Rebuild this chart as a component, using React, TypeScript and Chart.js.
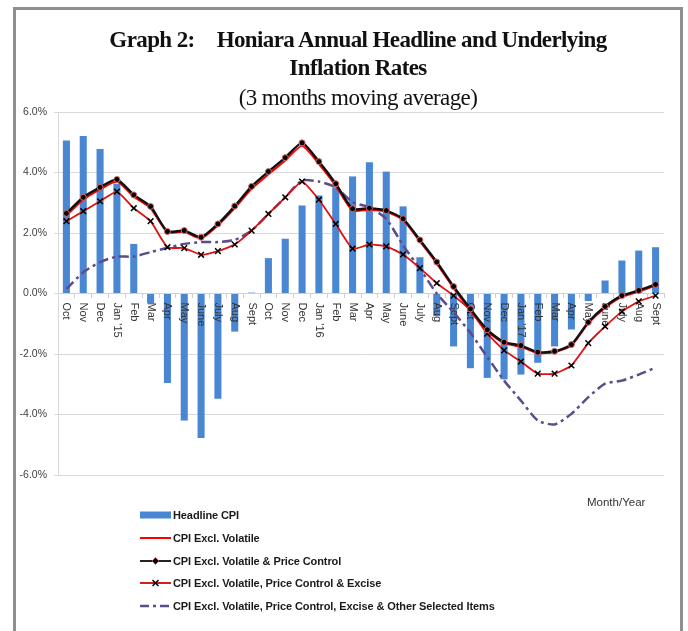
import React, { useEffect, useRef } from "react";
import { Chart, registerables } from "chart.js";

Chart.register(...registerables);

const categories = ["Oct","Nov","Dec","Jan '15","Feb","Mar","Apr","May","June","July","Aug","Sept","Oct","Nov","Dec","Jan '16","Feb","Mar","Apr","May","June","July","Aug","Sept","Oct","Nov","Dec","Jan '17","Feb","Mar","Apr","May","June","July","Aug","Sept"];

const headlineCPI = [5.06,5.21,4.78,3.63,1.64,-0.33,-2.96,-4.2,-4.78,-3.48,-1.26,0.03,1.17,1.81,2.91,3.24,3.51,3.87,4.34,4.03,2.88,1.2,-0.75,-1.75,-2.47,-2.79,-2.84,-2.68,-2.29,-1.75,-1.19,-0.25,0.43,1.09,1.42,1.53];

const exclVolatile = [2.58,3.1,3.44,3.7,3.2,2.82,2.02,2.04,1.82,2.25,2.82,3.46,3.94,4.4,4.88,4.28,3.56,2.74,2.77,2.7,2.43,1.72,0.99,0.18,-0.56,-1.25,-1.64,-1.76,-1.97,-1.94,-1.72,-0.99,-0.47,-0.11,0.06,0.26];

const exclVolatilePC = [2.65,3.18,3.51,3.77,3.26,2.88,2.05,2.08,1.86,2.3,2.89,3.54,4.03,4.49,4.98,4.36,3.63,2.8,2.82,2.74,2.47,1.77,1.04,0.23,-0.51,-1.2,-1.61,-1.72,-1.94,-1.91,-1.69,-0.95,-0.43,-0.07,0.1,0.3];

const exclVolatilePCE = [2.39,2.72,3.05,3.37,2.82,2.39,1.53,1.5,1.28,1.4,1.62,2.08,2.63,3.18,3.7,3.1,2.3,1.48,1.62,1.56,1.29,0.84,0.34,-0.07,-0.56,-1.33,-1.88,-2.25,-2.65,-2.65,-2.38,-1.64,-1.09,-0.6,-0.26,-0.07];

const exclOther = [0.15,0.7,1.04,1.22,1.22,1.37,1.51,1.64,1.7,1.7,1.77,2.08,2.63,3.18,3.74,3.7,3.51,3.02,2.85,2.47,1.59,0.82,0.0,-0.62,-1.3,-2.1,-2.88,-3.54,-4.2,-4.33,-3.98,-3.43,-2.98,-2.88,-2.68,-2.45];

const yTicks = [-6, -4, -2, 0, 2, 4, 6];

const seriesNames = [
  "Headline CPI",
  "CPI Excl. Volatile",
  "CPI Excl. Volatile & Price Control",
  "CPI Excl. Volatile, Price Control & Excise",
  "CPI Excl. Volatile, Price Control, Excise & Other Selected Items",
];

const BLUE = "#4a87d3";
const RED = "#ff0000";
const PURPLE = "#5e4b8b";

const labelPlugin = {
  id: "rotLabels",
  afterDatasetDraw(chart: any, args: any) {
    if (args.index !== 0) return;
    const ctx = chart.ctx;
    const xs = chart.scales.x;
    const ys = chart.scales.y;
    const y0 = ys.getPixelForValue(0) + 9;
    ctx.save();
    ctx.font = "11px 'Liberation Sans', Arial, sans-serif";
    ctx.fillStyle = "#333333";
    ctx.textAlign = "left";
    ctx.textBaseline = "middle";
    categories.forEach((c, i) => {
      const x = xs.getPixelForValue(i);
      ctx.save();
      ctx.translate(x, y0);
      ctx.rotate(Math.PI / 2);
      ctx.fillText(c, 0, 0);
      ctx.restore();
    });
    ctx.restore();
  },
};

function LegendSymbol({ kind }: { kind: number }) {
  if (kind === 0) {
    return (
      <svg width="31" height="10"><rect x="0" y="1.5" width="31" height="7" fill={BLUE} /></svg>
    );
  }
  if (kind === 1) {
    return (
      <svg width="31" height="10"><line x1="0" y1="5" x2="31" y2="5" stroke={RED} strokeWidth="2" /></svg>
    );
  }
  if (kind === 2) {
    return (
      <svg width="31" height="10">
        <line x1="0" y1="5" x2="31" y2="5" stroke="#222" strokeWidth="2" />
        <polygon points="15.5,1.5 19,5 15.5,8.5 12,5" fill="#000" stroke="#d05050" strokeWidth="0.8" />
      </svg>
    );
  }
  if (kind === 3) {
    return (
      <svg width="31" height="10">
        <line x1="0" y1="5" x2="31" y2="5" stroke="#d02020" strokeWidth="2" />
        <line x1="12.5" y1="2" x2="18.5" y2="8" stroke="#000" strokeWidth="1.5" />
        <line x1="18.5" y1="2" x2="12.5" y2="8" stroke="#000" strokeWidth="1.5" />
      </svg>
    );
  }
  return (
    <svg width="31" height="10">
      <line x1="0" y1="5" x2="31" y2="5" stroke={PURPLE} strokeWidth="2.5" strokeDasharray="9 4 3 4" />
    </svg>
  );
}

export default function App() {
  const canvasRef = useRef<HTMLCanvasElement | null>(null);

  useEffect(() => {
    if (!canvasRef.current) return;
    const chart = new Chart(canvasRef.current, {
      type: "bar",
      data: {
        labels: categories,
        datasets: [
          {
            type: "bar",
            label: seriesNames[0],
            data: headlineCPI,
            backgroundColor: BLUE,
            borderWidth: 0,
            barPercentage: 0.42,
            categoryPercentage: 1,
            order: 10,
          } as any,
          {
            type: "line",
            label: seriesNames[4],
            data: exclOther,
            borderColor: PURPLE,
            borderWidth: 2.5,
            borderDash: [10, 4, 3, 4],
            pointRadius: 0,
            tension: 0.2,
            order: 4,
          },
          {
            type: "line",
            label: seriesNames[3],
            data: exclVolatilePCE,
            borderColor: "#e01010",
            borderWidth: 1.8,
            pointStyle: "crossRot",
            pointRadius: 4,
            pointBorderColor: "#000",
            pointBorderWidth: 1.5,
            tension: 0.15,
            order: 3,
          },
          {
            type: "line",
            label: seriesNames[1],
            data: exclVolatile,
            borderColor: RED,
            borderWidth: 2,
            pointRadius: 0,
            tension: 0.2,
            order: 2,
          },
          {
            type: "line",
            label: seriesNames[2],
            data: exclVolatilePC,
            borderColor: "#111",
            borderWidth: 2.4,
            pointStyle: "circle",
            pointRadius: 3,
            pointBackgroundColor: "#000",
            pointBorderColor: "#e06a6a",
            pointBorderWidth: 1,
            tension: 0.2,
            order: 1,
          },
        ],
      },
      options: {
        responsive: false,
        animation: false,
        devicePixelRatio: 1,
        layout: { padding: { top: 112, bottom: 156, left: 0, right: 24 } },
        plugins: { legend: { display: false }, tooltip: { enabled: false }, title: { display: false } },
        scales: {
          x: {
            type: "category",
            position: { y: 0 } as any,
            offset: true,
            ticks: { display: false },
            grid: {
              display: true,
              drawOnChartArea: false,
              drawTicks: true,
              tickLength: 4,
              offset: true,
              color: "#d0d0d0",
            },
            border: { display: true, color: "#d0d0d0", width: 1 },
            afterFit: (s: any) => { s.height = 0; },
          },
          y: {
            min: -6,
            max: 6,
            afterBuildTicks: (s: any) => { s.ticks = yTicks.map((v) => ({ value: v })); },
            ticks: {
              callback: (v: any) => Number(v).toFixed(1) + "%",
              font: { family: "'Liberation Sans', Arial, sans-serif", size: 10.5 },
              color: "#404040",
              padding: 7,
            },
            grid: { color: "#d9d9d9", lineWidth: 1, drawTicks: true, tickLength: 4 },
            border: { display: true, color: "#d9d9d9" },
            afterFit: (s: any) => { s.width = 58; },
          },
        },
      },
      plugins: [labelPlugin],
    } as any);
    return () => chart.destroy();
  }, []);

  const legendRows = [515, 538, 561, 583, 606];

  return (
    <div style={{ position: "fixed", left: 0, top: 0, width: 688, height: 631, overflow: "hidden", background: "#fff" }}>
      <div style={{ position: "absolute", left: 13, top: 7, width: 670, height: 700, boxSizing: "border-box", border: "3px solid #8f8f8f" }} />
      <canvas ref={canvasRef} width={688} height={631} style={{ position: "absolute", left: 0, top: 0, width: 688, height: 631 }} />
      <div style={{ position: "absolute", left: 358, top: 26, transform: "translateX(-50%)", whiteSpace: "nowrap", fontFamily: "'Liberation Serif', serif", fontWeight: "bold", fontSize: 23, letterSpacing: -0.6, lineHeight: "28px", color: "#111", textAlign: "center" }}>
        <div><span>Graph 2:</span><span style={{ marginLeft: 22 }}>Honiara Annual Headline and Underlying</span></div>
        <div>Inflation Rates</div>
        <div style={{ fontWeight: "normal", marginTop: 2 }}>(3 months moving average)</div>
      </div>
      <div style={{ position: "absolute", left: 587, top: 496, fontFamily: "'Liberation Sans', Arial, sans-serif", fontSize: 11.5, color: "#333", whiteSpace: "nowrap" }}>Month/Year</div>
      {seriesNames.map((n, i) => (
        <div key={n} style={{ position: "absolute", left: 140, top: legendRows[i] - 8, height: 16, display: "flex", alignItems: "center", whiteSpace: "nowrap" }}>
          <LegendSymbol kind={i} />
          <span style={{ marginLeft: 2, fontFamily: "'Liberation Sans', Arial, sans-serif", fontWeight: "bold", fontSize: 11, letterSpacing: -0.1, color: "#1a1a1a" }}>{n}</span>
        </div>
      ))}
    </div>
  );
}
